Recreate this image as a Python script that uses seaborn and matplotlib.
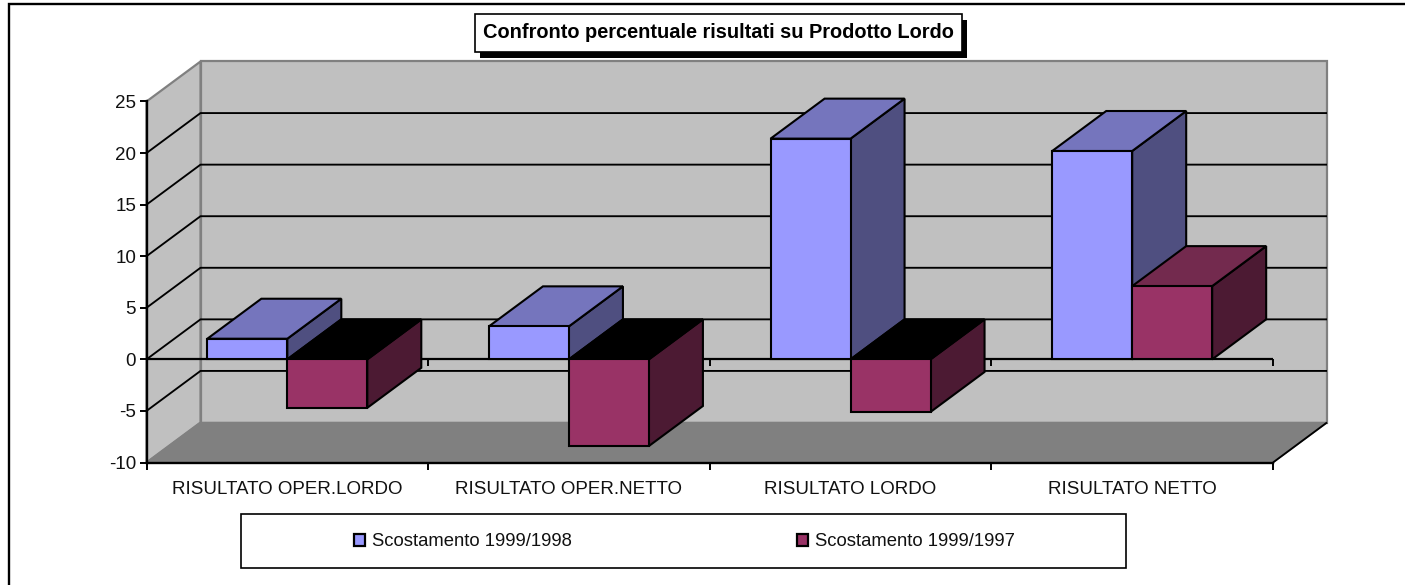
import pandas as pd
import seaborn as sns
import matplotlib.pyplot as plt
from matplotlib.patches import Patch, Polygon, Rectangle

categories = ["RISULTATO OPER.LORDO", "RISULTATO OPER.NETTO", "RISULTATO LORDO", "RISULTATO NETTO"]
scost_98 = [2.0, 3.2, 21.4, 20.2]
scost_97 = [-4.7, -8.4, -5.1, 7.1]
series = ["Scostamento 1999/1998", "Scostamento 1999/1997"]
y_ticks = [-10, -5, 0, 5, 10, 15, 20, 25]

W, H = 1405, 585
FRONT, TOP, SIDE = ["#9999FF", "#993366"], ["#7575BD", "#732A4E"], ["#4F4F80", "#4C1A33"]

df = pd.DataFrame({
    "categoria": categories * 2,
    "valore": scost_98 + scost_97,
    "serie": [series[0]] * 4 + [series[1]] * 4,
})

sns.set_theme(style="white")
plt.rcParams["font.family"] = ["Liberation Sans", "DejaVu Sans"]
plt.rcParams["axes.unicode_minus"] = False

def fx(px):
    return px / W

def fy(py):
    return 1 - py / H

fig = plt.figure(figsize=(W / 100, H / 100), dpi=100, facecolor="white")
ax = fig.add_axes([fx(146.5), fy(462.5), (1273 - 146.5) / W, (462.5 - 101.5) / H])
ax.patch.set_visible(False)

sns.barplot(data=df, x="categoria", y="valore", hue="serie", palette=FRONT, width=0.568, gap=0,
            edgecolor="black", linewidth=1.5, saturation=1, legend=False, ax=ax, zorder=5)
ax.set_xlim(-0.5, 3.5)
ax.set_ylim(-10, 25)

# profondita' del finto 3D, in unita' dei dati (54 e 40 px)
dx = 54 / 1126.5 * 4
dy = 40 / 361 * 35

def poly(pts, fc, ec, z, lw=1.5):
    ax.add_patch(Polygon(pts, closed=True, facecolor=fc, edgecolor=ec, linewidth=lw, zorder=z,
                         clip_on=False, joinstyle="miter"))

def line(xs, ys, c="black", lw=1.35, z=1):
    ax.plot(xs, ys, color=c, lw=lw, zorder=z, clip_on=False, solid_capstyle="butt")

x0, x1 = ax.get_xlim()
y0, y1 = ax.get_ylim()

# pareti e pavimento
poly([(x0 + dx, y0 + dy), (x1 + dx, y0 + dy), (x1 + dx, y1 + dy), (x0 + dx, y1 + dy)], "#C0C0C0", "#808080", 0.1, 1.6)
poly([(x0, y0), (x0 + dx, y0 + dy), (x0 + dx, y1 + dy), (x0, y1)], "#C0C0C0", "#808080", 0.2, 1.6)
poly([(x0, y0), (x1, y0), (x1 + dx, y0 + dy), (x0 + dx, y0 + dy)], "#808080", "#808080", 0.3, 1)
line([x1, x1 + dx], [y0, y0 + dy], z=0.4)

for v in y_ticks[1:-1]:
    line([x0, x0 + dx, x1 + dx], [v, v + dy, v + dy], z=0.5)

# linea dello zero con le tacche
line([x0, x1], [0, 0], lw=1.6, z=0.6)
for b in [0.5, 1.5, 2.5, 3.5]:
    line([b, b], [0, -0.65], lw=1.4, z=0.6)

# facce superiori e laterali costruite dalle barre di seaborn
for i, cont in enumerate(ax.containers):
    for j, bar in enumerate(cont):
        left, right = bar.get_x(), bar.get_x() + bar.get_width()
        h = bar.get_height()
        hi, lo = max(h, 0), min(h, 0)
        z = 2 + j * 2 + i * 0.5
        top_col = TOP[i] if h > 0 else "black"
        poly([(right, lo), (right + dx, lo + dy), (right + dx, hi + dy), (right, hi)], SIDE[i], "black", z)
        poly([(left, hi), (right, hi), (right + dx, hi + dy), (left + dx, hi + dy)], top_col, "black", z)
        bar.set_zorder(z + 0.1)
        bar.set_clip_on(False)

ax.set_yticks(y_ticks)
ax.set_xticks(range(4))
ax.set_xticklabels(categories)
ax.set_xticks([-0.5, 0.5, 1.5, 2.5, 3.5], minor=True)
ax.tick_params(axis="y", left=True, length=5, width=1.4, color="black", labelsize=13.5, labelcolor="#111111", pad=2.5)
ax.tick_params(axis="x", which="major", bottom=False, labelsize=13.5, labelcolor="#111111", pad=7)
ax.tick_params(axis="x", which="minor", bottom=True, length=5, width=1.4, color="black")
ax.set_xlabel("")
ax.set_ylabel("")
sns.despine(ax=ax, top=True, right=True)
for s in ["left", "bottom"]:
    ax.spines[s].set_color("black")
    ax.spines[s].set_linewidth(1.7)
    ax.spines[s].set_zorder(0.9)

# cornice del grafico
fig.add_artist(plt.Line2D([fx(9), fx(9), 1], [0, fy(4), fy(4)], color="black", lw=1.7,
                          solid_joinstyle="miter"))

# titolo con ombra
fig.add_artist(Rectangle((fx(480), fy(58)), 487 / W, 38 / H, transform=fig.transFigure, facecolor="black", edgecolor="black", lw=0))
fig.add_artist(Rectangle((fx(475), fy(52)), 487 / W, 38 / H, transform=fig.transFigure, facecolor="white", edgecolor="black", lw=1.2))
fig.text(fx(718.5), fy(32.5), "Confronto percentuale risultati su Prodotto Lordo", ha="center", va="center",
         fontsize=14.45, fontweight="bold", color="black")

# legenda
fig.add_artist(Rectangle((fx(241), fy(568)), 885 / W, 54 / H, transform=fig.transFigure, facecolor="white", edgecolor="black", lw=1.2))
handles = [Patch(facecolor=FRONT[i], edgecolor="black", linewidth=1.6, label=series[i]) for i in range(2)]
leg = fig.legend(handles=handles, ncol=2, loc="center", bbox_to_anchor=(fx(684.5), fy(542)), frameon=False,
                 fontsize=13.3, handlelength=0.6, handleheight=0.6, handletextpad=0.35, columnspacing=12.2, labelcolor="#111111")
leg.set_zorder(10)

fig.savefig("out.png", dpi=100)
